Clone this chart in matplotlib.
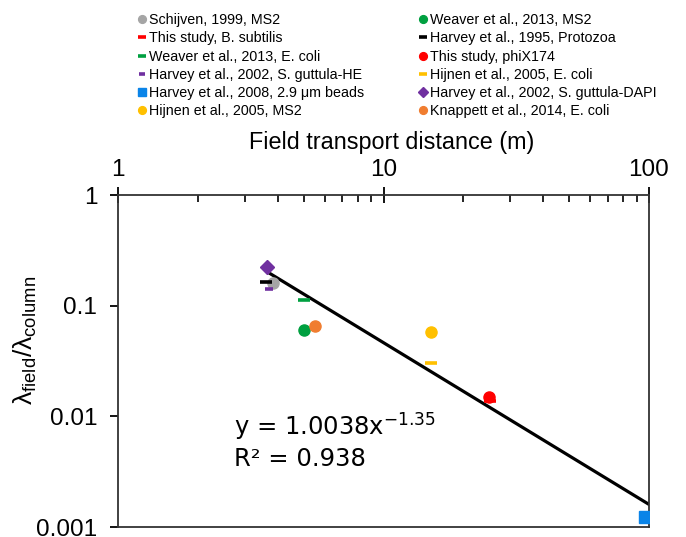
import matplotlib
matplotlib.use("Agg")
import matplotlib.pyplot as plt

plt.rcParams['font.family'] = ['Liberation Sans', 'DejaVu Sans']
plt.rcParams['mathtext.fontset'] = 'custom'
plt.rcParams['mathtext.rm'] = 'Liberation Sans'
plt.rcParams['mathtext.it'] = 'Liberation Sans:italic'

# ---- data ----
labels = [
    "Schijven, 1999, MS2",
    "This study, B. subtilis",
    "Weaver et al., 2013, E. coli",
    "Harvey et al., 2002, S. guttula-HE",
    "Harvey et al., 2008, 2.9 \u03bcm beads",
    "Hijnen et al., 2005, MS2",
    "Weaver et al., 2013, MS2",
    "Harvey et al., 1995, Protozoa",
    "This study, phiX174",
    "Hijnen et al., 2005, E. coli",
    "Harvey et al., 2002, S. guttula-DAPI",
    "Knappett et al., 2014, E. coli",
]
x_vals = [3.83, 25.2, 5.0, 3.70, 96.6, 15.06, 5.02, 3.62, 24.9, 15.1, 3.63, 5.52]
y_vals = [0.161, 0.0137, 0.113, 0.142, 0.00123, 0.0575, 0.060, 0.164, 0.0149, 0.0306, 0.223, 0.066]
colors = ['#A5A5A5', '#FF0000', '#00A040', '#7030A0', '#0A84E8', '#FFC000',
          '#00A040', '#000000', '#FF0000', '#FFC000', '#7030A0', '#F07D30']
markers = ['o', '_', '_', '_', 's', 'o', 'o', '_', 'o', '_', 'D', 'o']
sizes = [8, 8, 8, 4.5, 8, 8, 8, 8, 8, 8, 7, 8]

trend_x = [3.7, 100]
trend_y = [0.198, 0.0016]

x_ticks = [1, 10, 100]
y_ticks = [1, 0.1, 0.01, 0.001]
y_ticklabels = ['1', '0.1', '0.01', '0.001']

# ---- figure ----
fig = plt.figure(figsize=(6.86, 5.37), dpi=100)
ax = fig.add_axes([118/686, 1-527/537, (649-118)/686, (527-195)/537])
ax.set_xscale('log')
ax.set_yscale('log')
ax.set_xlim(1, 100)
ax.set_ylim(0.001, 1)

ax.plot(trend_x, trend_y, color='black', lw=2.3, zorder=2)

order = [i for i in range(len(labels)) if markers[i] != '_'] + \
        [i for i in range(len(labels)) if markers[i] == '_']
handles = {}
for i in order:
    m = markers[i]
    if m == '_':
        h, = ax.plot([x_vals[i]], [y_vals[i]], linestyle='none', marker='_',
                     markersize=sizes[i] + 1, mew=2.6, color=colors[i], zorder=4)
    else:
        h, = ax.plot([x_vals[i]], [y_vals[i]], linestyle='none', marker=m,
                     markersize=sizes[i], color=colors[i], mec=colors[i], zorder=3)
    handles[i] = h

ax.xaxis.tick_top()
ax.xaxis.set_label_position('top')
ax.set_xticks(x_ticks)
ax.set_xticklabels([str(t) for t in x_ticks])
ax.set_yticks(y_ticks)
ax.set_yticklabels(y_ticklabels)
ax.yaxis.set_minor_locator(matplotlib.ticker.NullLocator())
ax.tick_params(axis='x', which='major', direction='inout', length=12, width=1.3,
               labelsize=17.5, pad=4)
ax.tick_params(axis='x', which='minor', direction='in', length=5, width=1.2)
ax.tick_params(axis='y', which='major', direction='out', length=6, width=1.3,
               labelsize=17.5, pad=9)
for s in ax.spines.values():
    s.set_linewidth(1.3)
    s.set_color('#333333')

ax.set_xlabel('Field transport distance (m)', fontsize=16.8)
ax.xaxis.set_label_coords((392-118)/531, 1 + (195-149)/332)
ax.set_ylabel('$\\mathrm{\u03bb_{field}/\u03bb_{column}}$', fontsize=19)
ax.yaxis.set_label_coords(-(118-39)/531, (527-340)/332)

fig.text(234/686, 1-426/537, r'y = 1.0038x$^{\mathsf{-1.35}}$', fontsize=17.5,
         family='DejaVu Sans', va='center', ha='left')
fig.text(234/686, 1-459/537, 'R\u00b2 = 0.938', fontsize=17.5,
         family='DejaVu Sans', va='center', ha='left')

leg = fig.legend([handles[i] for i in range(len(labels))], labels, ncol=2,
                 loc='upper left', bbox_to_anchor=(129/686, 1 - 3/537), frameon=False,
                 fontsize=10.3, handlelength=0.4, handletextpad=0.3,
                 columnspacing=3.9, labelspacing=0.3, markerscale=0.7,
                 borderaxespad=0.3)

fig.savefig('out.png', dpi=100)
